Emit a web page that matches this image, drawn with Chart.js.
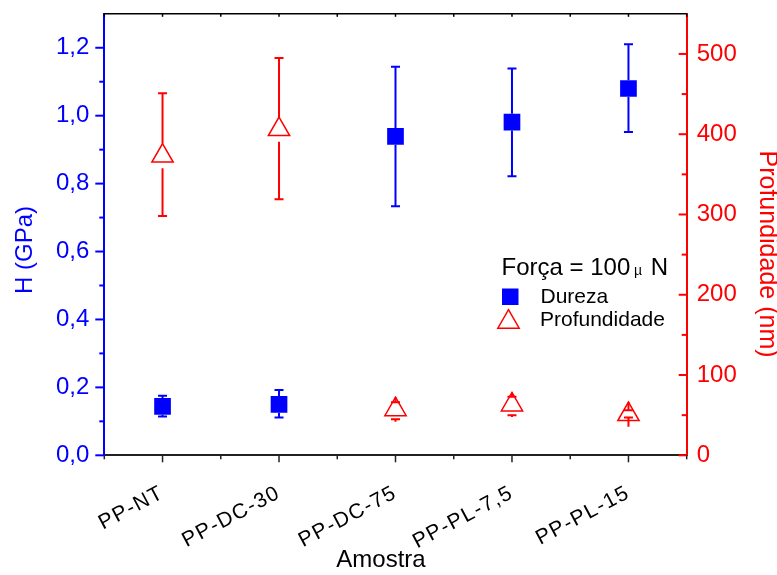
<!DOCTYPE html>
<html>
<head>
<meta charset="utf-8">
<script src="https://cdn.jsdelivr.net/npm/chart.js@4.4.1/dist/chart.umd.min.js"></script>
<style>
  html,body{margin:0;padding:0;background:#fff}
  #wrap{width:777px;height:575px;position:relative}
</style>
</head>
<body>
<div id="wrap"><canvas id="c"></canvas></div>
<script>
// valores (Força = 100 µN)
const amostras = ["PP-NT", "PP-DC-30", "PP-DC-75", "PP-PL-7,5", "PP-PL-15"];
const dureza     = [0.144, 0.150, 0.939, 0.981, 1.080];   // GPa
const durezaLow  = [0.114, 0.111, 0.733, 0.822, 0.952];
const durezaHigh = [0.175, 0.192, 1.144, 1.139, 1.210];
const profundidade = [373, 406, 57, 63, 51];             // nm
const profLow      = [298, 319, 45, 50, 47];
const profHigh     = [451, 495, 66, 73, 56];

const hTicks = [0, 0.2, 0.4, 0.6, 0.8, 1.0, 1.2];
const hMinor = [0.1, 0.3, 0.5, 0.7, 0.9, 1.1];
const profTicks = [0, 100, 200, 300, 400, 500];
const profMinor = [50, 150, 250, 350, 450];
const xMinor = [-0.5, 0.5, 1.5, 2.5, 3.5, 4.5];

const FONT = "'Liberation Sans', Arial, sans-serif";
const BLUE = "#0000ff", RED = "#ff0000", DARK = "#222222";
const SQ_R = 11.8, TRI_R = 12.3;

function triPath(ctx, x, y, r){
  ctx.beginPath();
  ctx.moveTo(x, y - r);
  ctx.lineTo(x + r*Math.sin(2*Math.PI/3), y - r*Math.cos(2*Math.PI/3));
  ctx.lineTo(x + r*Math.sin(4*Math.PI/3), y - r*Math.cos(4*Math.PI/3));
  ctx.closePath();
}

function noPad(s){ s.paddingTop = 0; s.paddingBottom = 0; s.paddingLeft = 0; s.paddingRight = 0; }

// barras de erro estilo Origin: linha sai da borda do símbolo até o cap
const errorBars = {
  id: "errorBars",
  afterDatasetsDraw(chart){
    const ctx = chart.ctx, xs = chart.scales.x;
    const sets = [
      { scale: chart.scales.y,  val: dureza,       lo: durezaLow, hi: durezaHigh, color: BLUE, box: SQ_R*Math.SQRT1_2 },
      { scale: chart.scales.y1, val: profundidade, lo: profLow,   hi: profHigh,   color: RED,  box: TRI_R }
    ];
    ctx.save();
    ctx.lineWidth = 2;
    sets.forEach(s => {
      ctx.strokeStyle = s.color;
      s.val.forEach((v, i) => {
        const px = xs.getPixelForValue(i);
        const pv = s.scale.getPixelForValue(v);
        const ph = s.scale.getPixelForValue(s.hi[i]);
        const pl = s.scale.getPixelForValue(s.lo[i]);
        ctx.beginPath();
        ctx.moveTo(px, pv - s.box); ctx.lineTo(px, ph);
        ctx.moveTo(px - 4.5, ph);  ctx.lineTo(px + 4.5, ph);
        ctx.moveTo(px, pv + s.box); ctx.lineTo(px, pl);
        ctx.moveTo(px - 4.5, pl);  ctx.lineTo(px + 4.5, pl);
        ctx.stroke();
      });
    });
    ctx.restore();
  }
};

// ticks, rótulos do eixo x, títulos e legenda
const decor = {
  id: "decor",
  afterDraw(chart){
    const ctx = chart.ctx, a = chart.chartArea;
    const xs = chart.scales.x, ys = chart.scales.y, y1 = chart.scales.y1;
    ctx.save();
    const line = (x1, yA, x2, yB) => { ctx.beginPath(); ctx.moveTo(x1, yA); ctx.lineTo(x2, yB); ctx.stroke(); };

    // eixo esquerdo
    ctx.strokeStyle = BLUE; ctx.lineWidth = 2;
    hTicks.forEach(v => { const p = ys.getPixelForValue(v); line(a.left - 9, p, a.left, p); });
    hMinor.forEach(v => { const p = ys.getPixelForValue(v); line(a.left - 5, p, a.left, p); });
    // eixo direito (ticks para dentro)
    ctx.strokeStyle = RED;
    profTicks.forEach(v => { const p = y1.getPixelForValue(v); line(a.right - 8, p, a.right, p); });
    profMinor.forEach(v => { const p = y1.getPixelForValue(v); line(a.right - 5, p, a.right, p); });
    // eixo inferior
    ctx.strokeStyle = DARK; ctx.lineWidth = 1.5;
    amostras.forEach((_, i) => { const p = xs.getPixelForValue(i); line(p, a.bottom, p, a.bottom + 7); });
    xMinor.forEach(v => { const p = xs.getPixelForValue(v); line(p, a.bottom, p, a.bottom + 4); });
    // borda superior
    ctx.strokeStyle = "#000"; ctx.lineWidth = 1.5;
    line(a.left, a.top, a.right, a.top);
    amostras.forEach((_, i) => { const p = xs.getPixelForValue(i); line(p, a.top, p, a.top + 3); });
    xMinor.forEach(v => { const p = xs.getPixelForValue(v); line(p, a.top, p, a.top + 3); });

    // rótulos inclinados
    ctx.fillStyle = "#000";
    ctx.font = "21px " + FONT;
    if ("letterSpacing" in ctx) ctx.letterSpacing = "1.5px";
    ctx.textAlign = "right"; ctx.textBaseline = "top";
    amostras.forEach((lab, i) => {
      const p = xs.getPixelForValue(i);
      ctx.save();
      ctx.translate(p - 5, a.bottom + 27);
      ctx.rotate(-28 * Math.PI / 180);
      ctx.fillText(lab, 0, 0);
      ctx.restore();
    });
    if ("letterSpacing" in ctx) ctx.letterSpacing = "0px";

    // títulos dos eixos
    ctx.textAlign = "center"; ctx.textBaseline = "middle";
    ctx.font = "24px " + FONT;
    ctx.fillText("Amostra", 381, 560);
    ctx.save();
    ctx.fillStyle = BLUE; ctx.translate(25, 250); ctx.rotate(-Math.PI/2);
    ctx.fillText("H (GPa)", 0, 0);
    ctx.restore();
    ctx.save();
    ctx.fillStyle = RED; ctx.font = "25px " + FONT; ctx.translate(767, 254); ctx.rotate(Math.PI/2);
    ctx.fillText("Profundidade (nm)", 0, 0);
    ctx.restore();

    // legenda
    ctx.fillStyle = "#000"; ctx.textAlign = "left"; ctx.textBaseline = "alphabetic";
    ctx.font = "24px " + FONT;
    const t1 = "Força = 100 ";
    ctx.fillText(t1, 501.5, 275);
    let lx = 501.5 + ctx.measureText(t1).width;
    ctx.font = "14px " + FONT;
    ctx.fillText("µ", lx - 3, 275);
    lx += ctx.measureText("µ ").width;
    ctx.font = "24px " + FONT;
    ctx.fillText("N", lx + 2, 275);

    ctx.fillStyle = BLUE;
    ctx.fillRect(502, 288.5, 16.5, 16.5);
    ctx.strokeStyle = RED; ctx.lineWidth = 1.5; ctx.fillStyle = "#fff";
    triPath(ctx, 508.5, 322, TRI_R); ctx.fill(); ctx.stroke();
    ctx.fillStyle = "#000"; ctx.textBaseline = "middle"; ctx.font = "21px " + FONT;
    ctx.fillText("Dureza", 540.5, 297);
    ctx.fillText("Profundidade", 540, 320);
    ctx.restore();
  }
};

new Chart(document.getElementById("c"), {
  type: "line",
  data: {
    labels: amostras,
    datasets: [
      { label: "Dureza", data: dureza, yAxisID: "y", showLine: false,
        pointStyle: "rect", pointRadius: SQ_R, pointBackgroundColor: BLUE, pointBorderColor: BLUE, pointBorderWidth: 0 },
      { label: "Profundidade", data: profundidade, yAxisID: "y1", showLine: false,
        pointStyle: "triangle", pointRadius: TRI_R, pointBackgroundColor: "#fff", pointBorderColor: RED, pointBorderWidth: 1.5 }
    ]
  },
  options: {
    responsive: true, maintainAspectRatio: false, animation: false,
    layout: { padding: { top: 13.5, left: 0, right: 0, bottom: 0 } },
    plugins: { legend: { display: false }, tooltip: { enabled: false } },
    scales: {
      x: {
        type: "category", offset: true,
        grid: { display: false, drawTicks: false },
        border: { display: true, color: DARK, width: 2 },
        ticks: { display: false },
        afterFit(s){ s.height = 119.7; noPad(s); }
      },
      y: {
        position: "left", min: 0, max: 1.3,
        afterBuildTicks(s){ s.ticks = hTicks.map(v => ({ value: v })); },
        ticks: { color: BLUE, font: { family: FONT, size: 24 }, padding: 15,
                 callback: v => v.toFixed(1).replace(".", ",") },
        grid: { display: false, drawTicks: false },
        border: { display: true, color: BLUE, width: 2 },
        afterFit(s){ s.width = 104.3; noPad(s); }
      },
      y1: {
        position: "right", min: 0, max: 550,
        afterBuildTicks(s){ s.ticks = profTicks.map(v => ({ value: v })); },
        ticks: { color: RED, font: { family: FONT, size: 24 }, padding: 10 },
        grid: { display: false, drawTicks: false },
        border: { display: true, color: RED, width: 2 },
        afterFit(s){ s.width = 90.3; noPad(s); }
      }
    }
  },
  plugins: [errorBars, decor]
});
</script>
</body>
</html>
